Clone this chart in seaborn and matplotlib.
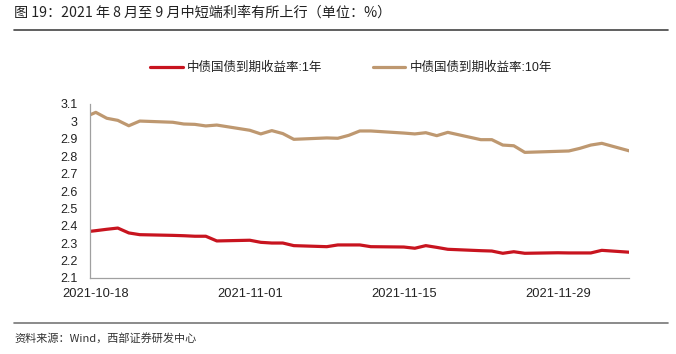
import pandas as pd
import numpy as np
import matplotlib
matplotlib.use("Agg")
import matplotlib.pyplot as plt
import matplotlib.dates as mdates
import seaborn as sns

# --- Data ---
DATES = [
    "2021-10-15",
    "2021-10-18", "2021-10-19", "2021-10-20", "2021-10-21", "2021-10-22",
    "2021-10-25", "2021-10-26", "2021-10-27", "2021-10-28", "2021-10-29",
    "2021-11-01", "2021-11-02", "2021-11-03", "2021-11-04", "2021-11-05",
    "2021-11-08", "2021-11-09", "2021-11-10", "2021-11-11", "2021-11-12",
    "2021-11-15", "2021-11-16", "2021-11-17", "2021-11-18", "2021-11-19",
    "2021-11-22", "2021-11-23", "2021-11-24", "2021-11-25", "2021-11-26",
    "2021-11-29", "2021-11-30", "2021-12-01", "2021-12-02", "2021-12-03",
    "2021-12-06",
]
YIELD_1Y = [
    2.350,
    2.372, 2.380, 2.387, 2.359, 2.349,
    2.345, 2.343, 2.340, 2.340, 2.313,
    2.317, 2.305, 2.301, 2.301, 2.286,
    2.280, 2.290, 2.290, 2.290, 2.280,
    2.278, 2.271, 2.286, 2.276, 2.265,
    2.257, 2.255, 2.242, 2.251, 2.242,
    2.245, 2.244, 2.244, 2.244, 2.259,
    2.246,
]
YIELD_10Y = [
    2.970,
    3.052, 3.018, 3.006, 2.975, 3.002,
    2.995, 2.985, 2.983, 2.974, 2.979,
    2.949, 2.928, 2.947, 2.930, 2.897,
    2.905, 2.903, 2.920, 2.945, 2.945,
    2.933, 2.928, 2.935, 2.918, 2.937,
    2.895, 2.895, 2.864, 2.860, 2.822,
    2.828, 2.830, 2.845, 2.864, 2.874,
    2.822,
]
SERIES_NAMES = ["中债国债到期收益率:1年", "中债国债到期收益率:10年"]
TICK_DATES = ["2021-10-18", "2021-11-01", "2021-11-15", "2021-11-29"]
Y_TICKS = [2.1, 2.2, 2.3, 2.4, 2.5, 2.6, 2.7, 2.8, 2.9, 3.0, 3.1]

TITLE = "图 19：2021 年 8 月至 9 月中短端利率有所上行（单位：%）"
SOURCE = "资料来源：Wind，西部证券研发中心"

COLORS = {SERIES_NAMES[0]: "#C8141F", SERIES_NAMES[1]: "#BE9870"}

# --- Build long table ---
dates = pd.to_datetime(DATES) + pd.Timedelta(hours=12)  # points sit in the middle of each day
df = pd.concat([
    pd.DataFrame({"date": dates, "value": YIELD_1Y, "series": SERIES_NAMES[0]}),
    pd.DataFrame({"date": dates, "value": YIELD_10Y, "series": SERIES_NAMES[1]}),
])

sns.set_style("white")
plt.rcParams["font.family"] = ["Liberation Sans", "Noto Sans CJK SC", "DejaVu Sans"]

fig = plt.figure(figsize=(6.76, 3.54), dpi=100)
ax = fig.add_axes([90.3 / 676, 76 / 354, (629.3 - 90.3) / 676, 174 / 354])

sns.lineplot(data=df, x="date", y="value", hue="series", palette=COLORS,
             linewidth=2.3, ax=ax, legend=False)

# axes limits and ticks
ax.set_xlim(pd.Timestamp("2021-10-18"), pd.Timestamp("2021-12-06"))
ax.set_ylim(2.1, 3.1)
ax.set_yticks(Y_TICKS)
ax.yaxis.set_major_formatter(plt.FuncFormatter(lambda v, p: f"{v:g}"))

tick_pos = pd.to_datetime(TICK_DATES)
ax.set_xticks(tick_pos)
ax.set_xticklabels([""] * len(tick_pos))
ax.set_xticks(tick_pos + pd.Timedelta(hours=12), minor=True)
ax.set_xticklabels(TICK_DATES, minor=True)

ax.tick_params(axis="both", which="major", direction="in", length=3.2,
               width=0.8, color="#9A9A9A", labelsize=9, colors="#9A9A9A")
ax.tick_params(axis="y", which="major", labelcolor="#222222", pad=9)
ax.tick_params(axis="x", which="minor", length=0, labelsize=9.3,
               labelcolor="#222222", pad=7)
ax.set_xlabel("")
ax.set_ylabel("")

for s in ["top", "right"]:
    ax.spines[s].set_visible(False)
for s in ["left", "bottom"]:
    ax.spines[s].set_color("#A0A0A0")
    ax.spines[s].set_linewidth(0.9)

# legend
handles = [plt.Line2D([], [], color=COLORS[n], linewidth=2.3) for n in SERIES_NAMES]
fig.legend(handles, SERIES_NAMES, loc="center", bbox_to_anchor=(351 / 676, 1 - 68 / 354),
           ncol=2, frameon=False, fontsize=9, handlelength=2.6, handletextpad=0.35,
           columnspacing=4.0, labelcolor="#222222")

# header / footer
fig.text(14 / 676, 1 - 13 / 354, TITLE, fontsize=10.2, va="center", ha="left",
         family=["Noto Sans CJK SC", "DejaVu Sans"], color="#222222")
fig.add_artist(plt.Line2D([14 / 676, 668 / 676], [1 - 30 / 354, 1 - 30 / 354],
                          color="#444444", linewidth=1.2))
fig.add_artist(plt.Line2D([14 / 676, 668 / 676], [1 - 323 / 354, 1 - 323 / 354],
                          color="#777777", linewidth=1.2))
fig.text(14 / 676, 1 - 338 / 354, SOURCE, fontsize=8, va="center", ha="left",
         family=["Noto Sans CJK SC", "DejaVu Sans"], color="#333333")

fig.savefig("out.png", dpi=100)
